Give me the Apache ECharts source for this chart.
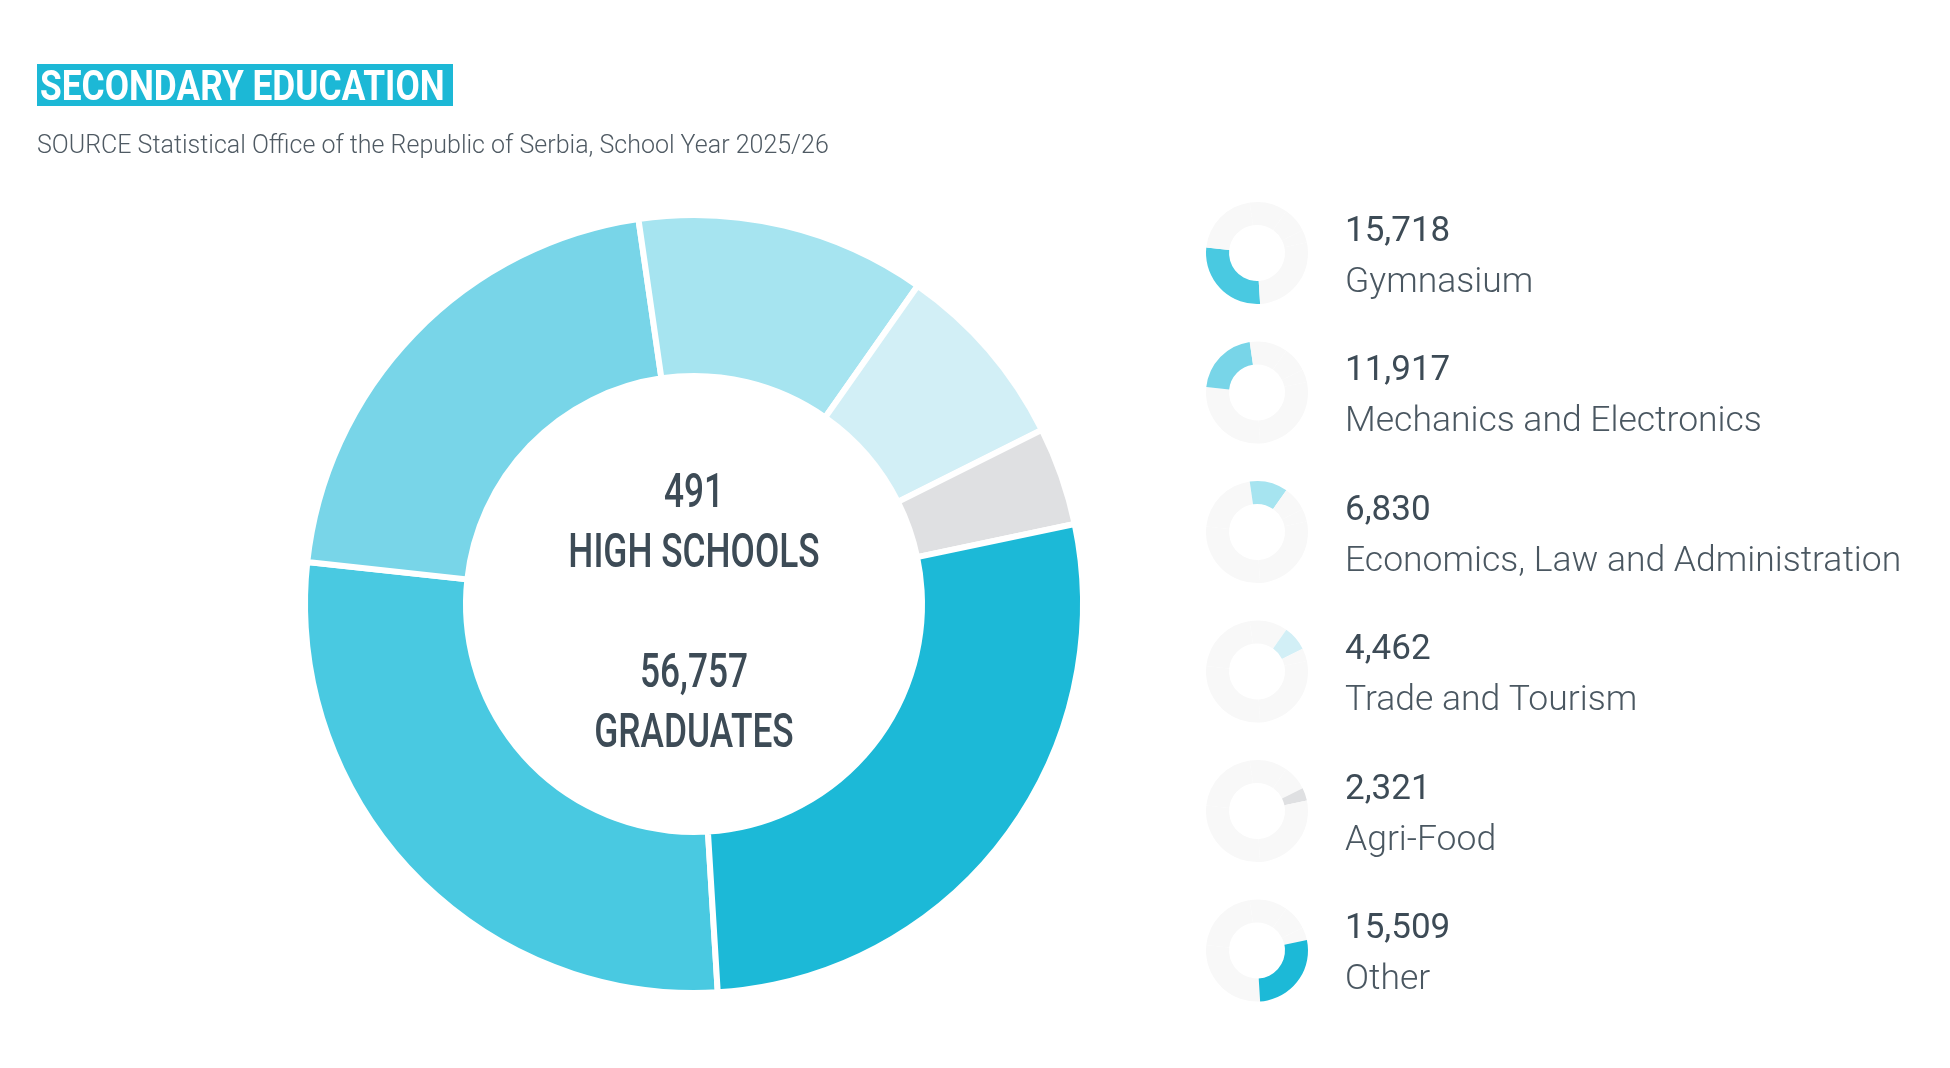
<!DOCTYPE html>
<html>
<head>
<meta charset="utf-8">
<title>Secondary education</title>
<script src="https://cdn.jsdelivr.net/npm/echarts@6/dist/echarts.min.js"></script>
<style>
  html, body { margin: 0; padding: 0; background: #fff; }
  #chart { width: 1950px; height: 1068px; }
</style>
</head>
<body>
<div id="chart"></div>
<script>
// data
var categories = ['Gymnasium', 'Mechanics and Electronics', 'Economics, Law and Administration',
                  'Trade and Tourism', 'Agri-Food', 'Other'];
var graduates = [15718, 11917, 6830, 4462, 2321, 15509];
var colors = ['#49c9e1', '#78d5e8', '#a6e4f0', '#d2eff6', '#dfe0e2', '#1cb9d7'];
var highSchools = 491;

var titleText = 'SECONDARY EDUCATION';
var sourceText = 'SOURCE Statistical Office of the Republic of Serbia, School Year 2025/26';

var dark = '#3d4b56';
var ringBg = '#f8f8f8';
var startAngle = 273.5;

function fmt(v) { return v.toLocaleString('en-US'); }
var total = graduates.reduce(function (a, b) { return a + b; }, 0);

var chart = echarts.init(document.getElementById('chart'), null, { renderer: 'canvas' });

// big ring
var series = [{
  type: 'pie',
  center: [694, 604],
  radius: [228, 389],
  startAngle: startAngle,
  clockwise: true,
  silent: true,
  label: { show: false },
  labelLine: { show: false },
  itemStyle: { borderColor: '#fff', borderWidth: 6 },
  data: categories.map(function (c, i) {
    return { name: c, value: graduates[i], itemStyle: { color: colors[i] } };
  })
}];

// small rings, one per category
var rowTop = 253, rowStep = 139.5;
categories.forEach(function (c, k) {
  series.push({
    type: 'pie',
    center: [1257, rowTop + k * rowStep],
    radius: [28, 51],
    startAngle: startAngle,
    clockwise: true,
    silent: true,
    label: { show: false },
    labelLine: { show: false },
    data: categories.map(function (cc, i) {
      return { name: cc, value: graduates[i], itemStyle: { color: i === k ? colors[i] : ringBg } };
    })
  });
});

var graphics = [
  { type: 'rect', shape: { x: 37, y: 64, width: 416, height: 42 }, style: { fill: '#1cb8d6' } },
  { type: 'text', x: 40, y: 89, scaleX: 0.84,
    style: { text: titleText, fill: '#fff', font: 'bold 42px Roboto', textVerticalAlign: 'middle' } },
  { type: 'text', x: 37, y: 147,
    style: { text: sourceText, fill: '#4f5a63', font: '300 25px Roboto', textVerticalAlign: 'middle' } }
];

// centre texts
var centre = [
  [String(highSchools), 495],
  ['HIGH SCHOOLS', 555],
  [fmt(total), 675],
  ['GRADUATES', 735]
];
centre.forEach(function (t) {
  graphics.push({ type: 'text', x: 694, y: t[1], scaleX: 0.72,
    style: { text: t[0], fill: dark, font: '500 49px Roboto', textAlign: 'center', textVerticalAlign: 'middle' } });
});

// legend texts
categories.forEach(function (c, k) {
  var cy = rowTop + k * rowStep;
  graphics.push({ type: 'text', x: 1345, y: cy - 21,
    style: { text: fmt(graduates[k]), fill: dark, font: '400 35px Roboto', textVerticalAlign: 'middle' } });
  graphics.push({ type: 'text', x: 1345, y: cy + 30,
    style: { text: c, fill: '#4a5761', font: '300 35.5px Roboto', textVerticalAlign: 'middle' } });
});

chart.setOption({
  animation: false,
  series: series,
  graphic: graphics
});
</script>
</body>
</html>
